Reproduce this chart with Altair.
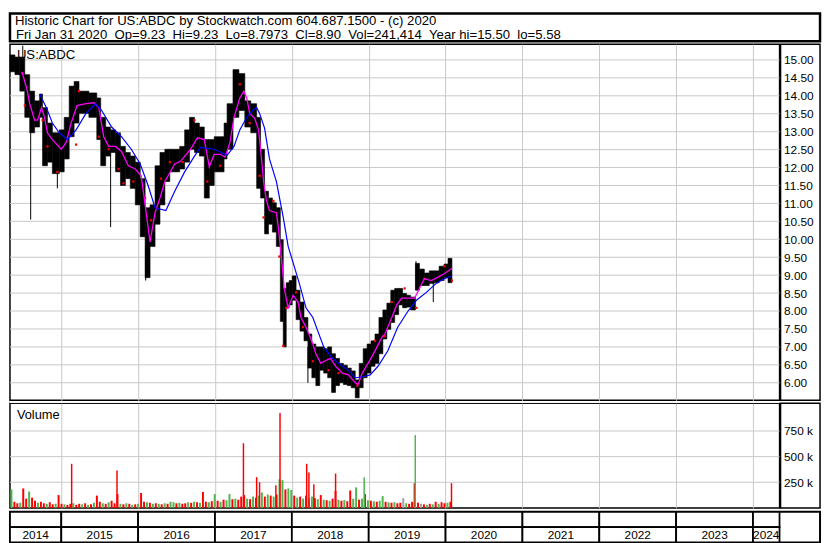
import altair as alt
import pandas as pd

FONT = "Liberation Sans"
NB = "\u00a0"
GRID = "#C8C8C8"
RED = "#FF0000"
GREEN = "#50B450"
GRAYV = "#A0A0A0"
MAGENTA = "#FF00FF"
BLUE = "#0000FF"

TITLE_LINE1 = "Historic Chart for US:ABDC by Stockwatch.com 604.687.1500 - (c) 2020"
QUOTE_FIELDS = ["Fri Jan 31 2020", "Op=9.23", "Hi=9.23", "Lo=8.7973", "Cl=8.90",
                "Vol=241,414", "Year hi=15.50", "lo=5.58"]
TITLE_LINE2 = (NB * 2).join(f.replace(" ", NB) for f in QUOTE_FIELDS)
TICKER = "US:ABDC"
VOLUME_LABEL = "Volume"

# time axis in decimal years
X0 = 2014.3325
X_AXIS = 2024.345
X_FULL = 2024.872
YEAR_GRID = [2015, 2016, 2017, 2018, 2019, 2020, 2021, 2022, 2023, 2024]
YEAR_LABELS = ["2014", "2015", "2016", "2017", "2018", "2019", "2020", "2021", "2022", "2023", "2024"]

PRICE_DOMAIN = [5.51, 15.44]
PRICE_TICKS = [6.0, 6.5, 7.0, 7.5, 8.0, 8.5, 9.0, 9.5, 10.0, 10.5, 11.0, 11.5, 12.0,
               12.5, 13.0, 13.5, 14.0, 14.5, 15.0]
VOL_DOMAIN = [0, 1020000]
VOL_TICKS = [250000, 500000, 750000]

# price range bands (start year, low, high)
SEG_START = [
    2014.333, 2014.397, 2014.461, 2014.525, 2014.589, 2014.653, 2014.718, 2014.756, 2014.820, 2014.884,
    2014.974, 2015.038, 2015.103, 2015.167, 2015.231, 2015.359, 2015.462, 2015.513, 2015.578, 2015.642,
    2015.706, 2015.770, 2015.834, 2015.898, 2015.963, 2016.027, 2016.091, 2016.155, 2016.220, 2016.284,
    2016.348, 2016.412, 2016.541, 2016.605, 2016.669, 2016.733, 2016.797, 2016.861, 2016.926, 2016.990,
    2017.118, 2017.157, 2017.234, 2017.311, 2017.388, 2017.465, 2017.542, 2017.593, 2017.645, 2017.696,
    2017.747, 2017.798, 2017.850, 2017.888, 2017.927, 2017.965, 2018.004, 2018.055, 2018.106, 2018.158,
    2018.209, 2018.260, 2018.312, 2018.363, 2018.414, 2018.466, 2018.517, 2018.568, 2018.620, 2018.671,
    2018.722, 2018.773, 2018.825, 2018.876, 2018.928, 2018.979, 2019.030, 2019.082, 2019.133, 2019.184,
    2019.236, 2019.287, 2019.338, 2019.390, 2019.441, 2019.493, 2019.544, 2019.608, 2019.660, 2019.724,
    2019.788, 2019.852, 2019.916, 2019.981, 2020.032]
SEG_END_LAST = 2020.083
SEG_LOW = [
    14.67, 14.59, 14.13, 13.40, 12.97, 13.13, 13.40, 12.05, 12.15, 11.83,
    11.88, 12.24, 12.86, 13.24, 13.51, 13.40, 12.78, 12.05, 12.32, 12.42,
    11.88, 11.50, 11.69, 11.42, 10.96, 10.07, 8.93, 9.80, 10.42, 10.96,
    11.61, 11.88, 11.96, 12.15, 12.51, 12.42, 12.32, 11.15, 11.50, 11.88,
    12.24, 12.51, 13.40, 13.59, 13.13, 12.97, 11.42, 11.15, 10.15, 10.42,
    10.20, 9.80, 7.71, 7.00, 8.09, 8.17, 8.30, 7.76, 7.44, 7.17,
    6.41, 6.14, 5.92, 6.35, 6.27, 6.14, 5.73, 5.92, 6.00, 5.95,
    5.92, 5.86, 5.58, 5.86, 6.14, 6.27, 6.46, 6.54, 6.81, 7.22,
    7.49, 7.68, 7.90, 8.17, 8.09, 8.11, 8.03, 8.58, 8.71, 8.71,
    8.77, 8.79, 8.85, 8.93, 8.79]
SEG_HIGH = [
    15.14, 15.08, 15.08, 14.59, 14.13, 13.86, 14.05, 13.67, 13.24, 12.97,
    13.05, 13.40, 14.27, 14.40, 14.13, 14.08, 13.94, 13.40, 13.13, 13.05,
    12.97, 12.59, 12.42, 12.32, 12.15, 11.69, 10.88, 10.96, 12.05, 12.42,
    12.51, 12.51, 12.59, 13.05, 13.40, 13.24, 13.13, 12.78, 12.78, 12.86,
    13.24, 13.78, 14.73, 14.62, 13.86, 13.78, 13.40, 12.51, 11.34, 11.15,
    11.02, 10.88, 9.99, 8.63, 8.79, 8.85, 8.98, 8.58, 8.25, 7.82,
    7.36, 7.08, 7.00, 7.00, 6.95, 7.00, 6.81, 6.68, 6.54, 6.49,
    6.41, 6.33, 6.08, 6.54, 6.95, 7.08, 7.17, 7.36, 7.82, 8.03,
    8.22, 8.58, 8.63, 8.63, 8.49, 8.44, 8.39, 9.33, 9.17, 9.06,
    9.12, 9.12, 9.25, 9.31, 9.47]

# single-day extremes
SPIKE_T = [2014.499, 2014.602, 2014.949, 2015.642, 2016.098, 2018.209, 2019.615, 2019.840]
SPIKE_LOW = [14.60, 10.55, 11.42, 10.34, 8.85, 6.00, 8.60, 8.25]
SPIKE_HIGH = [15.40, 13.50, 12.60, 12.80, 9.80, 7.00, 9.39, 8.90]

# red close ticks
DOT_T = [2014.499, 2014.525, 2014.756, 2014.820, 2014.949, 2015.193, 2015.231, 2015.488, 2015.616,
         2015.745, 2015.809, 2015.937, 2016.091, 2016.168, 2016.297, 2016.412, 2016.579, 2016.733,
         2016.900, 2017.067, 2017.323, 2017.452, 2017.580, 2017.632, 2017.760, 2017.837, 2017.888,
         2017.927, 2018.055, 2018.145, 2018.273, 2018.479, 2018.607, 2018.851, 2019.082, 2019.211,
         2019.300, 2019.467, 2019.621, 2019.724, 2019.981, 2020.083]
DOT_P = [14.62, 13.73, 13.32, 12.59, 11.88, 12.64, 14.13, 12.86, 12.51, 11.96, 11.56, 11.61, 11.15,
         10.53, 11.69, 12.15, 12.15, 13.32, 11.61, 12.05, 14.32, 13.24, 11.77, 10.61, 11.07, 9.52,
         7.03, 8.09, 8.52, 7.55, 6.60, 6.35, 6.27, 5.92, 7.17, 7.30, 8.25, 8.63, 8.09, 8.90, 9.25, 8.85]

# short moving average (magenta)
MAG_T = [2014.487, 2014.551, 2014.589, 2014.653, 2014.692, 2014.743, 2014.782, 2014.820, 2014.884,
         2015.000, 2015.064, 2015.128, 2015.205, 2015.321, 2015.424, 2015.488, 2015.552, 2015.616,
         2015.706, 2015.783, 2015.873, 2015.963, 2016.040, 2016.091, 2016.155, 2016.220, 2016.284,
         2016.348, 2016.476, 2016.553, 2016.682, 2016.771, 2016.861, 2016.926, 2016.990, 2017.067,
         2017.131, 2017.195, 2017.247, 2017.323, 2017.375, 2017.413, 2017.452, 2017.516, 2017.567,
         2017.606, 2017.632, 2017.670, 2017.709, 2017.799, 2017.824, 2017.863, 2017.901, 2017.952,
         2018.017, 2018.081, 2018.119, 2018.184, 2018.222, 2018.273, 2018.312, 2018.376, 2018.440,
         2018.505, 2018.569, 2018.658, 2018.736, 2018.825, 2018.864, 2018.915, 2018.992, 2019.082,
         2019.172, 2019.211, 2019.300, 2019.365, 2019.429, 2019.506, 2019.598, 2019.660, 2019.724,
         2019.814, 2019.891, 2019.981, 2020.071, 2020.083]
MAG_P = [14.67, 14.21, 13.78, 13.32, 13.32, 13.67, 13.40, 12.97, 12.78, 12.51, 12.70, 13.24, 13.73,
         13.78, 13.81, 13.67, 12.86, 12.59, 12.59, 12.45, 12.05, 11.96, 11.77, 10.96, 9.93, 10.74,
         11.15, 11.61, 12.10, 12.18, 12.51, 12.83, 12.78, 12.02, 12.37, 12.37, 12.29, 12.70, 13.40,
         13.94, 14.13, 13.94, 13.51, 13.37, 13.05, 12.24, 11.61, 11.07, 10.80, 10.74, 10.34, 9.52,
         8.63, 8.09, 8.44, 8.25, 7.82, 7.55, 7.36, 7.08, 6.81, 6.54, 6.62, 6.68, 6.46, 6.27, 6.22,
         6.00, 5.95, 6.27, 6.54, 6.89, 7.27, 7.36, 7.82, 8.17, 8.36, 8.36, 8.36, 8.63, 8.90, 8.85,
         8.93, 9.04, 9.17, 9.20]

# long moving average (blue)
BLUE_T = [2014.718, 2014.807, 2014.884, 2014.974, 2015.077, 2015.193, 2015.321, 2015.449, 2015.526,
          2015.655, 2015.783, 2015.911, 2016.027, 2016.130, 2016.220, 2016.361, 2016.476, 2016.605,
          2016.733, 2016.810, 2016.990, 2017.157, 2017.247, 2017.323, 2017.413, 2017.503, 2017.542,
          2017.580, 2017.645, 2017.709, 2017.799, 2017.888, 2017.952, 2018.030, 2018.094, 2018.184,
          2018.273, 2018.338, 2018.415, 2018.530, 2018.658, 2018.736, 2018.825, 2018.915, 2019.018,
          2019.121, 2019.249, 2019.377, 2019.506, 2019.621, 2019.750, 2019.878, 2019.981, 2020.083]
BLUE_P = [14.05, 13.67, 13.24, 12.97, 12.78, 13.05, 13.51, 13.78, 13.59, 13.13, 12.86, 12.51, 12.10,
          11.50, 10.88, 10.80, 11.34, 11.88, 12.32, 12.56, 12.51, 12.34, 12.59, 13.05, 13.40, 13.62,
          13.67, 13.51, 13.10, 12.24, 11.61, 10.61, 9.80, 9.25, 8.79, 8.09, 7.82, 7.44, 7.00, 6.68,
          6.46, 6.35, 6.14, 6.16, 6.22, 6.46, 6.89, 7.55, 7.98, 8.30, 8.52, 8.77, 8.90, 8.98]

# volume, two-week blocks starting at X0 (thousands) and colour codes
VOL_STEP_DAYS = 14
VOL_K = [180, 60, 45, 50, 190, 90, 160, 100, 70, 50,
         60, 45, 40, 55, 35, 40, 125, 40, 35, 30,
         40, 45, 30, 40, 35, 45, 30, 35, 50, 120,
         60, 45, 40, 55, 70, 45, 135, 40, 35, 45,
         40, 30, 35, 40, 145, 60, 55, 50, 40, 45,
         40, 35, 45, 40, 60, 55, 45, 50, 40, 45,
         55, 50, 60, 55, 50, 155, 60, 55, 65, 135,
         70, 60, 80, 75, 135, 85, 90, 80, 110, 125,
         90, 85, 110, 100, 120, 150, 110, 130, 120, 110,
         130, 280, 270, 180, 190, 175, 120, 100, 110, 90,
         120, 100, 110, 95, 85, 125, 80, 75, 70, 90,
         165, 80, 70, 75, 65, 170, 90, 200, 80, 90,
         135, 75, 70, 65, 60, 70, 115, 60, 55, 50,
         55, 45, 50, 95, 45, 40, 60, 80, 50, 40,
         35, 30, 40, 35, 60, 40, 55, 45, 50, 60]
VOL_C = list("grrgrrgrrg" "rrgrrgrrgr" "rgrrgrgrgr" "rgrgrrrgrg" "rgrgrrgrgr"
             "grgrggrgrr" "grgrgrrgrg" "rgrggrgrrr" "grgrggrgrg" "rggrggrgrg"
             "rggrgrgrgr" "rgrgrrggrg" "rgrgrggrgr" "grrngrrgrn" "rgrgrgrrgr")
VSPIKE_T = [2015.135, 2015.725, 2017.370, 2017.542, 2017.580, 2017.792, 2017.846, 2018.193,
            2018.222, 2018.286, 2018.569, 2018.941, 2019.594, 2019.606, 2020.077]
VSPIKE_K = [430, 365, 630, 300, 250, 220, 925, 430, 345, 230, 335, 300, 240, 710, 241]
VSPIKE_C = ["r", "r", "r", "r", "r", "r", "r", "r", "r", "r", "r", "g", "r", "g", "r"]

W = 821
H_HDR = 28
H_PRICE = 361
H_VOL = 106
H_YEARS = 31
AXIS_OFFSET = -41

# ---------------------------------------------------------------- scales/axes
xs = alt.Scale(domain=[X0, X_FULL], nice=False, zero=False)
x_axis = alt.Axis(values=YEAR_GRID, grid=True, gridColor=GRID, gridWidth=1, labels=False,
                  ticks=False, domain=False, title=None)
ps = alt.Scale(domain=PRICE_DOMAIN, nice=False, zero=False)
p_axis = alt.Axis(orient="right", offset=AXIS_OFFSET, values=PRICE_TICKS, format=".2f", grid=False,
                  ticks=False, tickSize=0, domain=True, domainColor="black", domainWidth=2.5,
                  labelPadding=4, labelFont=FONT, labelFontSize=12, labelColor="black",
                  labelAlign="left", labelOverlap=False, title=None)
vs = alt.Scale(domain=VOL_DOMAIN, nice=False, zero=False)
v_axis = alt.Axis(orient="right", offset=AXIS_OFFSET, values=VOL_TICKS,
                  labelExpr="format(datum.value / 1000, 'd') + ' k'", grid=False, ticks=False,
                  tickSize=0, domain=True, domainColor="black", domainWidth=2.5, labelPadding=4,
                  labelFont=FONT, labelFontSize=12, labelColor="black", labelAlign="left",
                  labelOverlap=False, title=None)
col_scale = alt.Scale(domain=["r", "g", "n"], range=[RED, GREEN, GRAYV])


def X(f):
    return alt.X(f, type="quantitative", scale=xs, axis=x_axis)


def PY(f):
    return alt.Y(f, type="quantitative", scale=ps, axis=p_axis)


def VY(f):
    return alt.Y(f, type="quantitative", scale=vs, axis=v_axis)


# ---------------------------------------------------------------- header
hdr_data = alt.Data(values=[{"a": TITLE_LINE1, "b": TITLE_LINE2}])
hdr1 = alt.Chart(hdr_data).mark_text(align="left", baseline="alphabetic", font=FONT,
                                     fontSize=13.33, color="black").encode(
    x=alt.value(5), y=alt.value(12), text="a:N")
hdr2 = alt.Chart(hdr_data).mark_text(align="left", baseline="alphabetic", font=FONT,
                                     fontSize=13.33, color="black").encode(
    x=alt.value(6), y=alt.value(26), text="b:N")
header = alt.layer(hdr1, hdr2).properties(
    width=W, height=H_HDR, view=alt.ViewBackground(stroke="black", strokeWidth=2.5))

# ---------------------------------------------------------------- price panel
pgrid_df = pd.DataFrame({"p": PRICE_TICKS, "xa": X0, "xb": X_AXIS})
seg_df = pd.DataFrame({"t0": SEG_START, "t1": SEG_START[1:] + [SEG_END_LAST],
                       "lo": SEG_LOW, "hi": SEG_HIGH})
spike_df = pd.DataFrame({"t": SPIKE_T, "lo": SPIKE_LOW, "hi": SPIKE_HIGH})
dot_df = pd.DataFrame({"t": DOT_T, "p": DOT_P})
mag_df = pd.DataFrame({"t": MAG_T, "p": MAG_P})
blue_df = pd.DataFrame({"t": BLUE_T, "p": BLUE_P})

pgrid = alt.Chart(pgrid_df).mark_rule(color=GRID, strokeWidth=1).encode(
    x=X("xa"), x2="xb", y=PY("p"))
bars = alt.Chart(seg_df).mark_rect(color="black", stroke="black", strokeWidth=0.6).encode(
    x=X("t0"), x2="t1", y=PY("lo"), y2="hi")
spikes = alt.Chart(spike_df).mark_rule(color="black", strokeWidth=1).encode(
    x=X("t"), y=PY("lo"), y2="hi")
dots = alt.Chart(dot_df).mark_square(color=RED, size=5, opacity=1).encode(
    x=X("t"), y=PY("p"))
mag = alt.Chart(mag_df).mark_line(color=MAGENTA, strokeWidth=1.3).encode(
    x=X("t"), y=PY("p"))
blue = alt.Chart(blue_df).mark_line(color=BLUE, strokeWidth=1.2).encode(
    x=X("t"), y=PY("p"))
ticker = alt.Chart(alt.Data(values=[{"s": TICKER}])).mark_text(
    align="left", baseline="middle", font=FONT, fontSize=13.33, color="black").encode(
    x=alt.value(7), y=alt.value(11), text="s:N")
price = alt.layer(pgrid, bars, spikes, dots, mag, blue, ticker).properties(
    width=W, height=H_PRICE, view=alt.ViewBackground(stroke="black", strokeWidth=1.5))

# ---------------------------------------------------------------- volume panel
step_years = VOL_STEP_DAYS / 365.25
vol_df = pd.DataFrame({
    "t": [X0 + (i + 0.5) * step_years for i in range(len(VOL_K))],
    "v": [k * 1000 for k in VOL_K],
    "c": VOL_C,
    "z": 0,
})
vspike_df = pd.DataFrame({"t": VSPIKE_T, "v": [k * 1000 for k in VSPIKE_K], "c": VSPIKE_C, "z": 0})
vgrid_df = pd.DataFrame({"v": VOL_TICKS, "xa": X0, "xb": X_AXIS})
sep_df = pd.DataFrame({"xa": [X0], "xb": [X_AXIS]})

vgrid = alt.Chart(vgrid_df).mark_rule(color=GRID, strokeWidth=1).encode(
    x=X("xa"), x2="xb", y=VY("v"))
# white hairline that splits the panel boundary into a double rule
vsep = alt.Chart(sep_df).mark_rule(color="white", strokeWidth=1).encode(
    x=X("xa"), x2="xb", y=alt.value(-0.75))
vbase = alt.Chart(vol_df).mark_rule(strokeWidth=2).encode(
    x=X("t"), y=VY("v"), y2="z", color=alt.Color("c:N", scale=col_scale, legend=None))
vspk = alt.Chart(vspike_df).mark_rule(strokeWidth=1.5).encode(
    x=X("t"), y=VY("v"), y2="z", color=alt.Color("c:N", scale=col_scale, legend=None))
vlabel = alt.Chart(alt.Data(values=[{"s": VOLUME_LABEL}])).mark_text(
    align="left", baseline="middle", font=FONT, fontSize=13, color="black").encode(
    x=alt.value(7), y=alt.value(12), text="s:N")
volume = alt.layer(vgrid, vsep, vbase, vspk, vlabel).properties(
    width=W, height=H_VOL, view=alt.ViewBackground(stroke="black", strokeWidth=1.5))

# ---------------------------------------------------------------- year band
rows = []
for lab in YEAR_LABELS:
    yv = int(lab)
    s = max(yv, X0)
    e = min(yv + 1, X_AXIS)
    for r in ("a", "b"):
        rows.append({"label": lab, "row": r, "s": s, "e": e, "m": (s + e) / 2})
year_df = pd.DataFrame(rows)
ys = alt.Scale(domain=["a", "b"], paddingInner=0, paddingOuter=0)
xs_band = alt.Scale(domain=[X0, X_FULL], nice=False, zero=False)
ycells = alt.Chart(year_df).mark_rect(fill="white", stroke="black", strokeWidth=1.8).encode(
    x=alt.X("s:Q", scale=xs_band, axis=None), x2="e",
    y=alt.Y("row:N", scale=ys, axis=None))
ytext = alt.Chart(year_df).transform_filter(alt.datum.row == "b").mark_text(
    font=FONT, fontSize=12, color="black", baseline="middle").encode(
    x=alt.X("m:Q", scale=xs_band, axis=None),
    y=alt.Y("row:N", scale=ys, axis=None), text="label:N")
years = alt.layer(ycells, ytext).properties(
    width=W, height=H_YEARS, view=alt.ViewBackground(stroke="black", strokeWidth=2))

chart = alt.vconcat(header, price, volume, years, spacing=0).properties(
    padding=0, background="white")

chart.save("out.html", embed_options={"renderer": "svg", "actions": False})
